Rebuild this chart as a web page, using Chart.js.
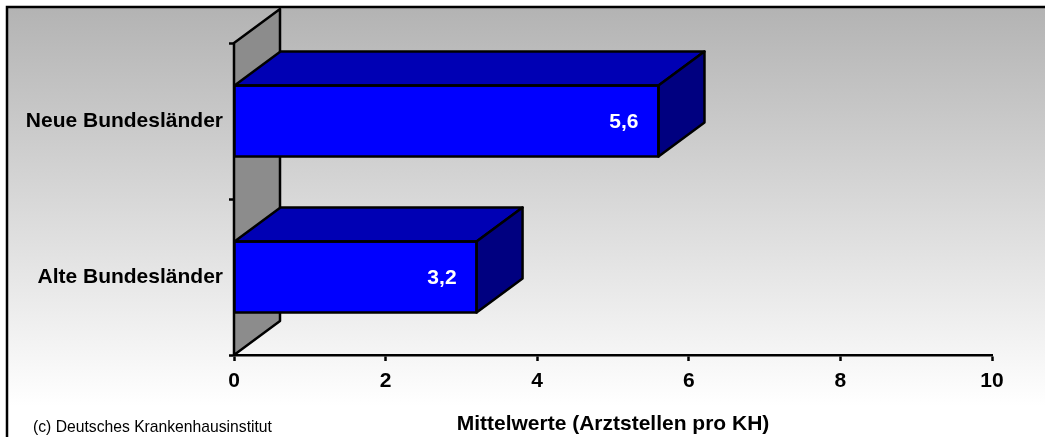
<!DOCTYPE html>
<html>
<head>
<meta charset="utf-8">
<script src="https://cdn.jsdelivr.net/npm/chart.js@4"></script>
<style>
  html, body { margin: 0; padding: 0; background: #ffffff; }
  #wrap { width: 1045px; height: 437px; }
</style>
</head>
<body>
<div id="wrap"><canvas id="c" width="1045" height="437"></canvas></div>
<script>
// Data
const categories = ['Neue Bundesländer', 'Alte Bundesländer'];
const values = [5.6, 3.2];
const valueLabels = ['5,6', '3,2'];
const axisTicks = [0, 2, 4, 6, 8, 10];
const axisTitle = 'Mittelwerte (Arztstellen pro KH)';
const sourceNote = '(c) Deutsches Krankenhausinstitut';

// Styling
const FONT = 'Liberation Sans, Arial, Helvetica, sans-serif';
const DEPTH_X = 46;
const DEPTH_Y = 34;
const FRONT = '#0000ff';
const TOP = '#0000b4';
const SIDE = '#000080';
const WALL = '#8c8c8c';
const EDGE = 2.5;

// Page background with gradient panel and frame
const backdrop = {
  id: 'backdrop',
  beforeDraw(chart) {
    const ctx = chart.ctx;
    const w = chart.width, h = chart.height;
    ctx.save();
    ctx.fillStyle = '#ffffff';
    ctx.fillRect(0, 0, w, h);
    const g = ctx.createLinearGradient(0, 7, 0, 406);
    g.addColorStop(0, '#b3b3b3');
    g.addColorStop(1, '#ffffff');
    ctx.fillStyle = g;
    ctx.fillRect(7, 7, w - 7, h - 7);
    ctx.strokeStyle = '#000000';
    ctx.lineWidth = 2.5;
    ctx.beginPath();
    ctx.moveTo(7, h + 5);
    ctx.lineTo(7, 7);
    ctx.lineTo(w + 5, 7);
    ctx.stroke();
    // source note
    ctx.fillStyle = '#000000';
    ctx.font = '15.7px ' + FONT;
    ctx.textBaseline = 'middle';
    ctx.textAlign = 'left';
    ctx.fillText(sourceNote, 33, 428);
    ctx.restore();
  }
};

// Side wall behind the bars, drawn from the chart area
const sideWall = {
  id: 'sideWall',
  beforeDatasetsDraw(chart) {
    const { ctx, chartArea: a } = chart;
    ctx.save();
    ctx.beginPath();
    ctx.moveTo(a.left, a.bottom);
    ctx.lineTo(a.left, a.top);
    ctx.lineTo(a.left + DEPTH_X, a.top - DEPTH_Y);
    ctx.lineTo(a.left + DEPTH_X, a.bottom - DEPTH_Y);
    ctx.closePath();
    ctx.fillStyle = WALL;
    ctx.fill();
    ctx.strokeStyle = '#000000';
    ctx.lineWidth = EDGE;
    ctx.lineJoin = 'round';
    ctx.stroke();
    ctx.restore();
  }
};

// Top and side faces of each bar plus the value labels
const barFaces = {
  id: 'barFaces',
  afterDatasetsDraw(chart) {
    const ctx = chart.ctx;
    const meta = chart.getDatasetMeta(0);
    ctx.save();
    ctx.strokeStyle = '#000000';
    ctx.lineWidth = EDGE;
    ctx.lineJoin = 'round';
    meta.data.forEach((bar, i) => {
      const p = bar.getProps(['x', 'y', 'base', 'height'], true);
      const top = p.y - p.height / 2;
      const bottom = p.y + p.height / 2;
      const x0 = p.base, x1 = p.x;
      // top face
      ctx.beginPath();
      ctx.moveTo(x0, top);
      ctx.lineTo(x0 + DEPTH_X, top - DEPTH_Y);
      ctx.lineTo(x1 + DEPTH_X, top - DEPTH_Y);
      ctx.lineTo(x1, top);
      ctx.closePath();
      ctx.fillStyle = TOP;
      ctx.fill();
      ctx.stroke();
      // side face
      ctx.beginPath();
      ctx.moveTo(x1, top);
      ctx.lineTo(x1 + DEPTH_X, top - DEPTH_Y);
      ctx.lineTo(x1 + DEPTH_X, bottom - DEPTH_Y);
      ctx.lineTo(x1, bottom);
      ctx.closePath();
      ctx.fillStyle = SIDE;
      ctx.fill();
      ctx.stroke();
      // front outline
      ctx.strokeRect(x0, top, x1 - x0, bottom - top);
      // value label
      ctx.fillStyle = '#ffffff';
      ctx.font = 'bold 21px ' + FONT;
      ctx.textAlign = 'right';
      ctx.textBaseline = 'middle';
      ctx.fillText(valueLabels[i], x1 - 20, p.y + 1);
    });
    ctx.restore();
  }
};

new Chart(document.getElementById('c'), {
  type: 'bar',
  data: {
    labels: categories,
    datasets: [{
      data: values,
      backgroundColor: FRONT,
      borderColor: '#000000',
      borderWidth: 0,
      barPercentage: 0.455,
      categoryPercentage: 1.0
    }]
  },
  options: {
    indexAxis: 'y',
    responsive: false,
    animation: false,
    devicePixelRatio: 1,
    layout: { padding: { left: 0, top: 43, right: 53, bottom: 0 } },
    plugins: {
      legend: { display: false },
      tooltip: { enabled: false }
    },
    scales: {
      x: {
        type: 'linear',
        min: axisTicks[0],
        max: axisTicks[axisTicks.length - 1],
        afterBuildTicks(scale) {
          scale.ticks = axisTicks.map(v => ({ value: v }));
        },
        afterFit(scale) { scale.height = 82; },
        ticks: {
          color: '#000000',
          font: { family: FONT, weight: 'bold', size: 21 },
          padding: 8
        },
        grid: {
          drawOnChartArea: false,
          drawTicks: true,
          tickLength: 6,
          tickWidth: 2.5,
          tickColor: '#000000'
        },
        border: { display: true, color: '#000000', width: EDGE },
        title: {
          display: true,
          text: axisTitle,
          color: '#000000',
          font: { family: FONT, weight: 'bold', size: 21 },
          padding: { top: 0, bottom: 0 }
        }
      },
      y: {
        type: 'category',
        afterFit(scale) { scale.width = 234; },
        ticks: {
          color: '#000000',
          font: { family: FONT, weight: 'bold', size: 21 },
          padding: 6
        },
        grid: {
          offset: true,
          drawOnChartArea: false,
          drawTicks: true,
          tickLength: 5,
          tickWidth: 2.5,
          tickColor: '#000000'
        },
        border: { display: true, color: '#000000', width: EDGE }
      }
    }
  },
  plugins: [backdrop, sideWall, barFaces]
});
</script>
</body>
</html>
